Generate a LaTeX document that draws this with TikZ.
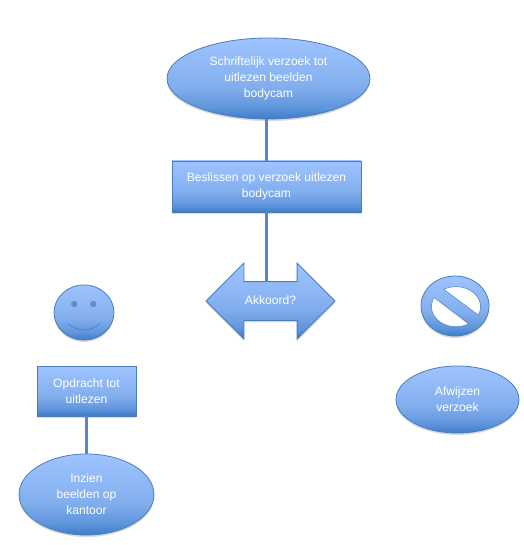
\documentclass[tikz,border=0pt]{standalone}
\usepackage{fontspec}
\setmainfont{Liberation Sans}
\usetikzlibrary{shapes.geometric,shapes.arrows,shadows}
\definecolor{blueTop}{HTML}{9FC4FF}
\definecolor{blueMid}{HTML}{82AEEE}
\definecolor{blueSoft}{HTML}{5F95DC}
\definecolor{blueLow}{HTML}{3E7BC8}
\definecolor{blueLine}{HTML}{5587C4}
\definecolor{blueEdge}{HTML}{4A7EBB}
\pgfdeclareverticalshading{softblue}{100bp}{color(0bp)=(blueLow); color(25bp)=(blueLow); color(32bp)=(blueSoft); color(45bp)=(blueMid); color(75bp)=(blueTop); color(100bp)=(blueTop)}
\tikzset{
  softfill/.style={shading=softblue,draw=blueEdge,line width=0.8pt,
    drop shadow={opacity=0.3,shadow xshift=0pt,shadow yshift=-2pt},
    text=white,align=center,inner sep=0pt,outer sep=0pt,
    font=\fontsize{12.1}{16}\selectfont},
  softoval/.style={softfill,shape=ellipse},
  softbox/.style={softfill,shape=rectangle},
  flowline/.style={blueLine,line width=3.5pt,xshift=0.8pt},
  holepart/.style={draw=blueEdge,fill=white,line width=0.5pt}
}
\begin{document}
\begin{tikzpicture}[x=1pt,y=-1pt]
\useasboundingbox (0,0) rectangle (523,545);
% Top of the flow
\node[softoval,minimum width=203,minimum height=81] (verzoek) at (268.5,78.5) {Schriftelijk verzoek tot\\uitlezen beelden\\bodycam};
\node[softbox,minimum width=189,minimum height=51] (beslissen) at (266.5,186.5) {Beslissen op verzoek uitlezen\\bodycam};
\node[softfill,shape=double arrow,double arrow head extend=18.5,minimum height=129,minimum width=75,
  text height=10,text depth=3,inner ysep=12.5] (akkoord) at (270.5,301) {Akkoord?};
% Left branch
\node[softoval,minimum width=60,minimum height=55] (smiley) at (84,312.5) {};
\foreach \eyex in {74.3,93.3} {
  \fill[blueEdge!85!gray,opacity=0.7] (\eyex,304) circle (3.2);
}
\draw[blueEdge,line width=0.6pt] (67.7,323.5) .. controls (77,332) and (91,332) .. (100,323.5);
\node[softbox,minimum width=99,minimum height=50] (opdracht) at (86.5,391) {Opdracht tot\\uitlezen};
\node[softoval,minimum width=135,minimum height=81] (inzien) at (86.5,494.5) {Inzien\\beelden op\\kantoor};
% Right branch
\node[softoval,minimum width=68,minimum height=60] (verboden) at (455,306) {};
\draw[holepart] plot[domain=-120:24.5,samples=40,smooth] ({456+24.5*cos(\x)},{306.7+20*sin(\x)}) -- cycle;
\draw[holepart] plot[domain=59:207,samples=40,smooth] ({456+24.5*cos(\x)},{306.7+20*sin(\x)}) -- cycle;
\node[softoval,minimum width=123,minimum height=67] (afwijzen) at (457.5,399.5) {Afwijzen\\verzoek};
% Connectors
\draw[flowline] (verzoek.south -| beslissen.north) -- (beslissen.north);
\draw[flowline] (beslissen.south) -- (beslissen.south |- akkoord.north);
\draw[flowline] (opdracht.south) -- (inzien.north);
\end{tikzpicture}
\end{document}
